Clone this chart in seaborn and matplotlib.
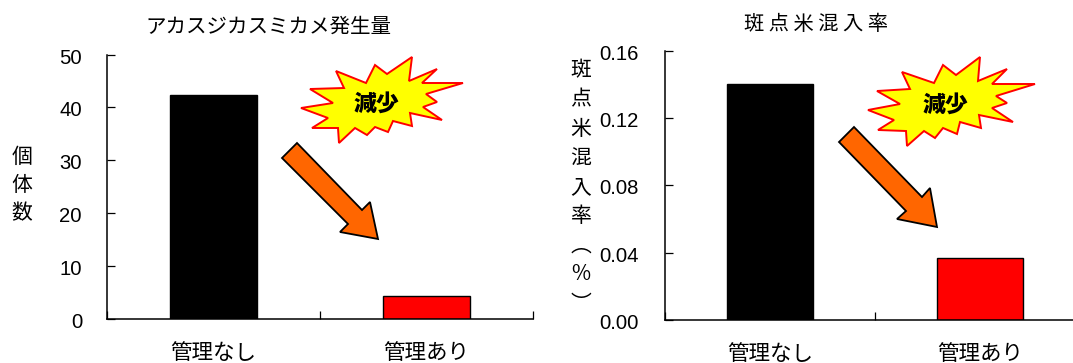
import matplotlib
matplotlib.use("Agg")
import matplotlib.pyplot as plt
from matplotlib.patches import Polygon
from matplotlib.transforms import Affine2D, ScaledTranslation
import pandas as pd
import seaborn as sns

categories = ["管理なし", "管理あり"]
bug_counts = [42.3, 4.3]
rice_rates = [0.14, 0.037]
bar_colors = ["#000000", "#ff0000"]
bug_ticks = [0, 10, 20, 30, 40, 50]
rate_ticks = [0.00, 0.04, 0.08, 0.12, 0.16]

W, H = 1073, 363
JP = ["Noto Sans CJK JP", "DejaVu Sans"]
NUM = "Liberation Sans"

sns.set_theme(style="ticks")
plt.rcParams["font.family"] = JP

fig = plt.figure(figsize=(W / 100, H / 100), dpi=100, facecolor="white")
px = Affine2D().scale(1 / W, -1 / H).translate(0, 1) + fig.transFigure


def panel(box, values, ticks, fmt, pad):
    left, top, right, bottom = box
    ax = fig.add_axes([left / W, 1 - bottom / H, (right - left) / W, (bottom - top) / H])
    frame = pd.DataFrame({"group": categories, "value": values})
    sns.barplot(data=frame, x="group", y="value", hue="group", palette=bar_colors,
                width=0.41, edgecolor="black", linewidth=1.0, saturation=1,
                legend=False, ax=ax)
    ax.set_xlim(-0.5, 1.5)
    ax.set_ylim(ticks[0], ticks[-1])
    ax.set_facecolor("white")
    ax.set_xlabel("")
    ax.set_ylabel("")
    ax.spines["top"].set_visible(False)
    ax.spines["right"].set_visible(False)
    for side in ("left", "bottom"):
        ax.spines[side].set_linewidth(1.1)
        ax.spines[side].set_color("black")
    ax.set_yticks(ticks)
    ax.set_yticklabels([fmt.format(t) for t in ticks], fontsize=14.6, family=NUM, color="black")
    ax.tick_params(axis="y", direction="in", length=5.5, width=0.9, pad=pad, color="black")
    # Nudge the numeric labels slightly below their tick marks
    nudge = ScaledTranslation(0, -1.5 / 100, fig.dpi_scale_trans)
    for label in ax.get_yticklabels():
        label.set_transform(label.get_transform() + nudge)
    ax.set_xticks([0, 1])
    ax.set_xticklabels(categories, fontsize=15.5, color="black")
    ax.tick_params(axis="x", which="major", length=0, pad=16.5)
    ax.set_xticks([-0.5, 0.5, 1.5], minor=True)
    ax.tick_params(axis="x", which="minor", direction="in", length=5.5, width=0.9, color="black")
    return ax


panel((107, 54.5, 532.5, 319), bug_counts, bug_ticks, "{:.0f}", 18)
panel((665, 50.5, 1085, 320), rice_rates, rate_ticks, "{:.2f}", 19)

# Chart titles and stacked vertical axis captions
fig.text(268 / W, 1 - 27 / H, "アカスジカスミカメ発生量", fontsize=14.8, ha="center", va="center", color="black")
fig.text(816 / W, 1 - 24 / H, "斑 点 米 混 入 率", fontsize=14.6, ha="center", va="center", color="black")
fig.text(22 / W, 1 - 185 / H, "個\n体\n数", fontsize=15, ha="center", va="center", linespacing=1.38, color="black")
fig.text(581 / W, 1 - 187 / H, "斑\n点\n米\n混\n入\n率\n︵\n%\n︶", fontsize=15, ha="center", va="center",
         linespacing=1.42, color="black")

# Starburst callouts and downward arrows, in figure pixels
burst_left = [(301, 108), (333, 103), (310, 89), (344, 88), (336, 71), (366, 83), (375, 65),
              (387, 74), (412, 57), (409, 81), (437, 69), (422, 83), (463, 83), (426, 94),
              (437, 102), (423, 107), (442, 120), (410, 113), (412, 126), (393, 121),
              (388, 132), (375, 127), (367, 135), (355, 128), (339, 143), (338, 128),
              (312, 128), (328, 118)]
burst_right = [(868, 110), (900, 104), (877, 91), (910, 89), (902, 72), (934, 83), (943, 65),
               (956, 75), (980, 57), (978, 81), (1007, 69), (992, 84), (1035, 84),
               (996, 96), (1007, 103), (992, 108), (1013, 122), (979, 115), (981, 128),
               (960, 122), (957, 134), (943, 128), (935, 138), (924, 131), (907, 146),
               (906, 131), (878, 130), (894, 120)]
arrow_left = [(297, 143), (362, 210), (370, 202), (378, 239), (340, 232), (348, 224), (282, 158)]
arrow_right = [(854, 127), (922, 197), (930, 188), (937, 227), (897, 219), (906, 211), (839, 142)]

for burst, arrow, label_xy in ((burst_left, arrow_left, (376, 104)),
                               (burst_right, arrow_right, (945, 105))):
    fig.add_artist(Polygon(burst, closed=True, facecolor="#ffff00", edgecolor="#ff0000",
                           linewidth=1.4, joinstyle="miter", transform=px))
    fig.add_artist(Polygon(arrow, closed=True, facecolor="#ff6600", edgecolor="black",
                           linewidth=1.3, joinstyle="miter", transform=px))
    fig.text(label_xy[0] / W, 1 - label_xy[1] / H, "減少", fontsize=16.5, fontweight="black",
             ha="center", va="center", color="black")

fig.savefig("out.png", dpi=100, facecolor="white")
